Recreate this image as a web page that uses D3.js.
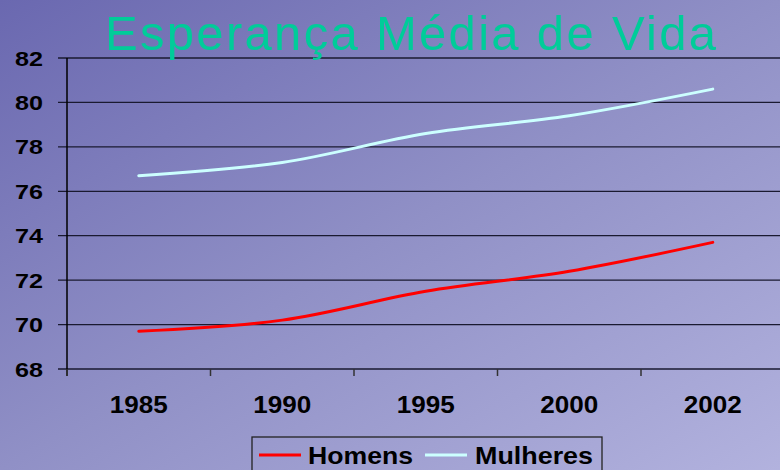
<!DOCTYPE html>
<html>
<head>
<meta charset="utf-8">
<script src="https://cdn.jsdelivr.net/npm/d3@7"></script>
<style>
  body { margin: 0; overflow: hidden; }
  text { font-family: "Liberation Sans", Arial, sans-serif; }
</style>
</head>
<body>
<div id="chart"></div>
<script>
// data
const years = ['1985', '1990', '1995', '2000', '2002'];
const homens = [69.7, 70.2, 71.5, 72.4, 73.7];
const mulheres = [76.7, 77.3, 78.6, 79.4, 80.6];
const yTicks = [68, 70, 72, 74, 76, 78, 80, 82];
const seriesNames = ['Homens', 'Mulheres'];
const seriesColors = ['#ff0000', '#ccffff'];

const width = 780, height = 470;
const margin = {left: 67, top: 58, bottom: 101};
const plotRight = 784.5;

const svg = d3.select('#chart')
  .append('svg')
  .attr('width', width)
  .attr('height', height);

// background gradient
const defs = svg.append('defs');
const grad = defs.append('linearGradient')
  .attr('id', 'bg')
  .attr('x1', '0%').attr('y1', '0%')
  .attr('x2', '100%').attr('y2', '100%');
grad.append('stop').attr('offset', '0%').attr('stop-color', '#6a68b0');
grad.append('stop').attr('offset', '50%').attr('stop-color', '#9090c6');
grad.append('stop').attr('offset', '100%').attr('stop-color', '#b2b2de');

svg.append('rect')
  .attr('width', width).attr('height', height)
  .attr('fill', 'url(#bg)');

var x = d3.scaleBand()
  .domain(years)
  .range([margin.left, plotRight]);

var y = d3.scaleLinear()
  .domain([68, 82])
  .range([height - margin.bottom, margin.top]);

// gridlines
svg.append('g')
  .selectAll('line')
  .data(yTicks)
  .enter().append('line')
    .attr('x1', margin.left - 9)
    .attr('x2', width)
    .attr('y1', d => y(d))
    .attr('y2', d => y(d))
    .attr('stroke', '#1a1a30')
    .attr('stroke-width', 1.3);

// y axis line
svg.append('line')
  .attr('x1', margin.left).attr('x2', margin.left)
  .attr('y1', y(82)).attr('y2', y(68) + 7)
  .attr('stroke', '#000').attr('stroke-width', 1.5);

// x ticks between categories
svg.append('g')
  .selectAll('line')
  .data(years)
  .enter().append('line')
    .attr('x1', d => x(d))
    .attr('x2', d => x(d))
    .attr('y1', y(68))
    .attr('y2', y(68) + 7)
    .attr('stroke', '#333')
    .attr('stroke-width', 1.5);

// y labels
svg.append('g')
  .selectAll('text')
  .data(yTicks)
  .enter().append('text')
    .attr('x', 43)
    .attr('y', d => y(d))
    .attr('dy', '0.36em')
    .attr('text-anchor', 'end')
    .attr('font-size', 21)
    .attr('font-weight', 'bold')
    .attr('textLength', 28)
    .attr('lengthAdjust', 'spacingAndGlyphs')
    .text(d => d);

// x labels
svg.append('g')
  .selectAll('text')
  .data(years)
  .enter().append('text')
    .attr('x', d => x(d) + x.bandwidth() / 2 - 29)
    .attr('y', 413)
    .attr('font-size', 23)
    .attr('font-weight', 'bold')
    .attr('textLength', 58)
    .attr('lengthAdjust', 'spacingAndGlyphs')
    .text(d => d);

// lines
const line = d3.line()
  .x((d, i) => x(years[i]) + x.bandwidth() / 2)
  .y(d => y(d))
  .curve(d3.curveCatmullRom.alpha(0.5));

[homens, mulheres].forEach((vals, i) => {
  svg.append('path')
    .datum(vals)
    .attr('d', line)
    .attr('fill', 'none')
    .attr('stroke', seriesColors[i])
    .attr('stroke-width', 3)
    .attr('stroke-linecap', 'round');
});

// title
svg.append('text')
  .attr('x', 105)
  .attr('y', 50)
  .attr('font-size', 49)
  .attr('fill', '#00cc99')
  .style('font-family', '"Liberation Sans Narrow", "Liberation Sans", sans-serif')
  .attr('textLength', 611)
  .attr('lengthAdjust', 'spacing')
  .text('Esperança Média de Vida');

// legend
const legend = svg.append('g');
legend.append('rect')
  .attr('x', 252).attr('y', 437)
  .attr('width', 350).attr('height', 50)
  .attr('fill', 'none')
  .attr('stroke', '#222')
  .attr('stroke-width', 1.3);

const legendX = [259, 425];
const textX = [308, 475];
const textW = [105, 118];
seriesNames.forEach((name, i) => {
  legend.append('line')
    .attr('x1', legendX[i]).attr('x2', legendX[i] + 42)
    .attr('y1', 455).attr('y2', 455)
    .attr('stroke', seriesColors[i])
    .attr('stroke-width', 3);
  legend.append('text')
    .attr('x', textX[i])
    .attr('y', 464)
    .attr('font-size', 24)
    .attr('font-weight', 'bold')
    .attr('textLength', textW[i])
    .attr('lengthAdjust', 'spacingAndGlyphs')
    .text(name);
});
</script>
</body>
</html>
